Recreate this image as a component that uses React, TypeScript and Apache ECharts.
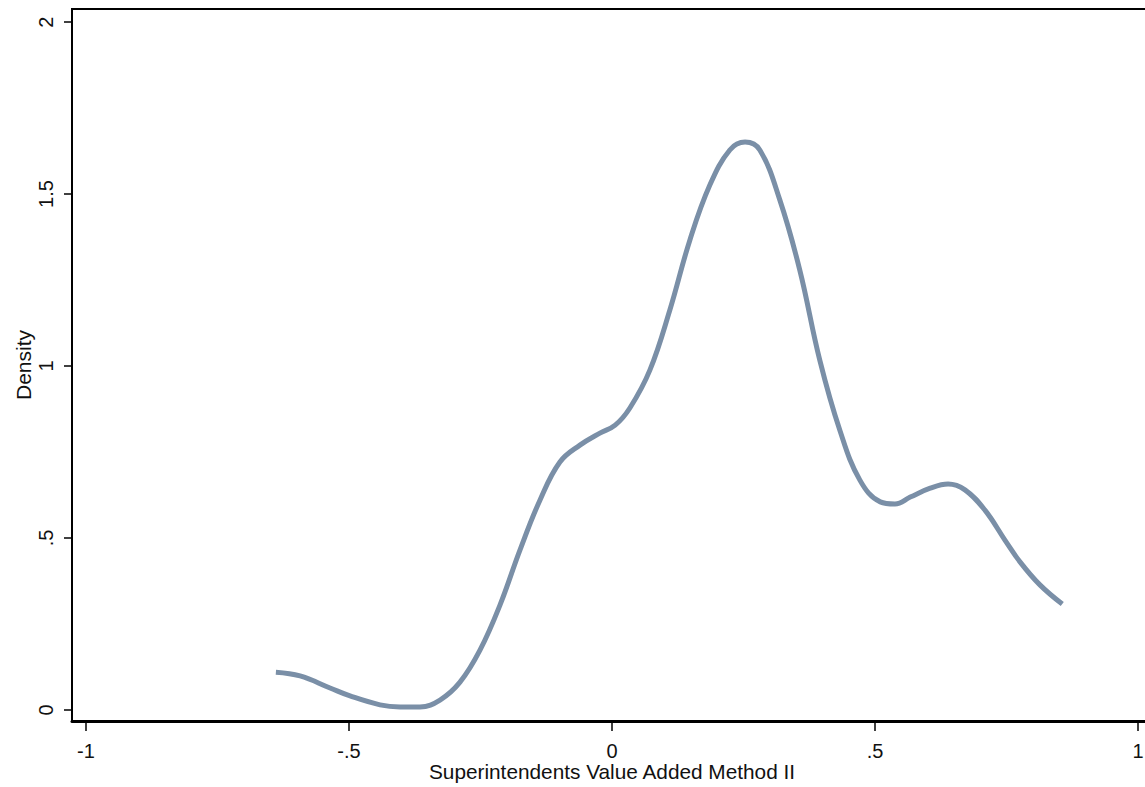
import React, { useEffect, useRef } from "react";
import * as echarts from "echarts";

const xTicks = [-1, -0.5, 0, 0.5, 1];
const yTicks = [0, 0.5, 1, 1.5, 2];
const xTitle = "Superintendents Value Added Method II";
const yTitle = "Density";

const densityX = [
  -0.639, -0.593, -0.536, -0.498, -0.441, -0.403, -0.365, -0.327, -0.289, -0.251,
  -0.213, -0.175, -0.137, -0.099, -0.061, -0.023, 0.006, 0.034, 0.072, 0.110,
  0.148, 0.186, 0.224, 0.253, 0.281, 0.319, 0.357, 0.395, 0.433, 0.471,
  0.510, 0.538, 0.567, 0.605, 0.639, 0.671, 0.709, 0.747, 0.776, 0.814, 0.856,
];
const densityY = [
  0.110, 0.099, 0.064, 0.041, 0.015, 0.009, 0.009, 0.029, 0.081, 0.174,
  0.305, 0.465, 0.610, 0.721, 0.770, 0.805, 0.828, 0.878, 0.988, 1.163,
  1.366, 1.526, 1.628, 1.651, 1.628, 1.483, 1.279, 1.017, 0.814, 0.669,
  0.605, 0.599, 0.619, 0.645, 0.657, 0.640, 0.581, 0.494, 0.430, 0.363, 0.308,
];

const fmt = (v: number) => {
  if (v === 0) return "0";
  const s = String(v);
  return s.replace(/^(-?)0\./, "$1.");
};

export default function App() {
  const ref = useRef<HTMLDivElement>(null);
  useEffect(() => {
    if (!ref.current) return;
    const chart = echarts.init(ref.current, null, { renderer: "svg" });
    const font = "'Liberation Sans', Arial, sans-serif";
    chart.setOption({
      animation: false,
      backgroundColor: "#ffffff",
      grid: {
        left: 72,
        top: 9,
        right: 8,
        bottom: 66,
        outerBoundsMode: "none",
        containLabel: false,
        show: true,
        borderColor: "#000",
        borderWidth: 2,
      },
      xAxis: {
        type: "value",
        min: -1.0266,
        max: 1.0266,
        splitLine: { show: false },
        axisLine: { show: true, onZero: false, lineStyle: { color: "#000", width: 3 } },
        axisTick: { show: true, length: 10, customValues: xTicks, lineStyle: { color: "#000", width: 1.5 } },
        axisLabel: {
          customValues: xTicks,
          formatter: (v: number) => fmt(v),
          color: "#111",
          fontFamily: font,
          fontSize: 20,
          lineHeight: 14,
          margin: 23,
        },
        name: xTitle,
        nameLocation: "middle",
        nameGap: 42,
        nameMoveOverlap: false,
        nameTextStyle: { color: "#111", fontFamily: font, fontSize: 20.8, lineHeight: 16 },
      },
      yAxis: {
        type: "value",
        min: -0.032,
        max: 2.038,
        splitLine: { show: false },
        axisLine: { show: true, onZero: false, lineStyle: { color: "#000", width: 2 } },
        axisTick: { show: true, length: 8, customValues: yTicks, lineStyle: { color: "#000", width: 1.5 } },
        axisLabel: {
          customValues: yTicks,
          formatter: (v: number) => fmt(v),
          rotate: 90,
          color: "#111",
          fontFamily: font,
          fontSize: 20,
          margin: 16,
        },
        name: yTitle,
        nameLocation: "middle",
        nameGap: 38,
        nameMoveOverlap: false,
        nameTextStyle: { color: "#111", fontFamily: font, fontSize: 21 },
      },
      series: [
        {
          type: "line",
          data: densityX.map((x, i) => [x, densityY[i]]),
          smooth: 0.4,
          showSymbol: false,
          lineStyle: { color: "#7a8fa7", width: 5 },
          itemStyle: { color: "#7a8fa7" },
        },
      ],
    });
    return () => chart.dispose();
  }, []);
  return (
    <div
      ref={ref}
      style={{ position: "fixed", left: 0, top: 0, width: 1160, height: 787, background: "#fff" }}
    />
  );
}
